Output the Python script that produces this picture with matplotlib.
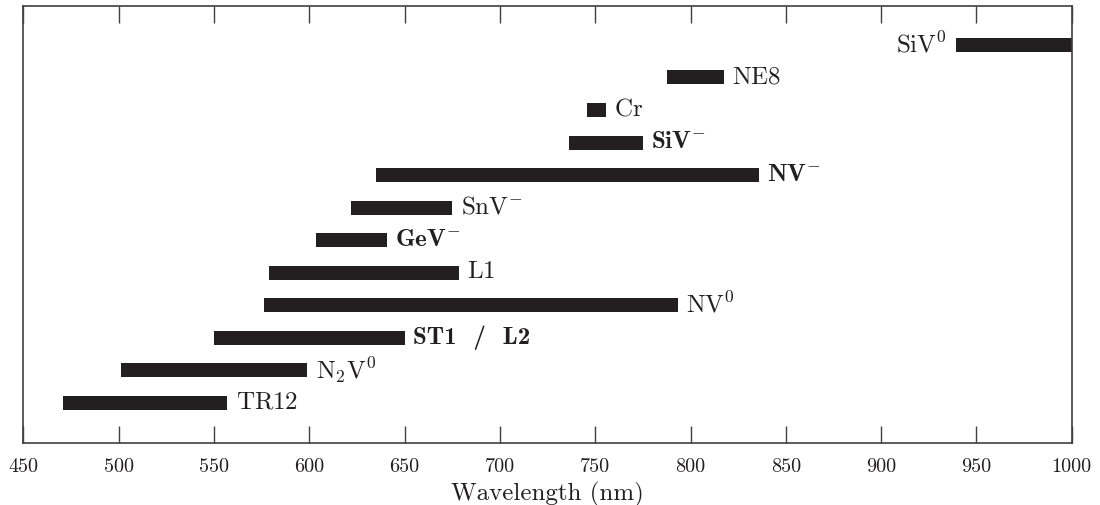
import matplotlib
matplotlib.use("Agg")
import matplotlib.pyplot as plt
import numpy as np

# Data
labels = [r'$\mathrm{TR12}$', r'$\mathrm{N}_2\mathrm{V}^0$', 'ST1  /  L2',
          r'$\mathrm{NV}^0$', r'$\mathrm{L1}$', r'$\mathbf{GeV}^{-}$', r'$\mathrm{SnV}^{-}$',
          r'$\mathbf{NV}^{-}$', r'$\mathbf{SiV}^{-}$', r'$\mathrm{Cr}$', r'$\mathrm{NE8}$',
          r'$\mathrm{SiV}^0$']
start_nm = [471, 501, 550, 576, 579, 603.5, 622, 635, 736, 745.5, 787.5, 939.5]
end_nm = [557, 599, 650, 793.5, 678.5, 640.5, 675, 836, 775, 755.5, 817.5, 1000]
label_left = [False] * 11 + [True]
plain_bold = [False, False, True] + [False] * 9
xticks = [450, 500, 550, 600, 650, 700, 750, 800, 850, 900, 950, 1000]

plt.rcParams['mathtext.fontset'] = 'cm'
plt.rcParams['font.family'] = 'serif'
plt.rcParams['font.serif'] = ['cmr10']
plt.rcParams['axes.formatter.use_mathtext'] = True

fig = plt.figure(figsize=(11, 5.06), dpi=100)
ax = fig.add_axes([0.0213, 0.1219, 0.9530, 0.8633])

bar_color = '#231f20'
y = np.arange(len(labels))
widths = np.array(end_nm) - np.array(start_nm)
ax.barh(y, widths, left=start_nm, height=0.43, color=bar_color)

for yi, s, e, lab, left, pb in zip(y, start_nm, end_nm, labels, label_left, plain_bold):
    kw = dict(fontsize=18, color='#231f20', textcoords='offset points')
    if pb:
        kw['family'] = 'cmb10'
    if left:
        ax.annotate(lab, xy=(s, yi), xytext=(-7, 1), ha='right', va='center', **kw)
    else:
        ax.annotate(lab, xy=(e, yi), xytext=(6, 1), ha='left', va='center', **kw)

ax.set_xlim(450, 1000)
ax.set_ylim(-1.24, 12.18)
ax.set_xticks(xticks)
ax.set_xticklabels([str(t) for t in xticks])
ax.set_yticks([])
ax.tick_params(axis='x', direction='in', length=12, width=1, top=True, bottom=True,
               labelsize=14.5, pad=10, color='#404040', labelcolor='#231f20')
for sp in ax.spines.values():
    sp.set_color('#404040')
    sp.set_linewidth(1.2)
ax.set_xlabel('Wavelength (nm)', fontsize=18, color='#231f20', labelpad=4)

fig.savefig('out.png', dpi=100)
